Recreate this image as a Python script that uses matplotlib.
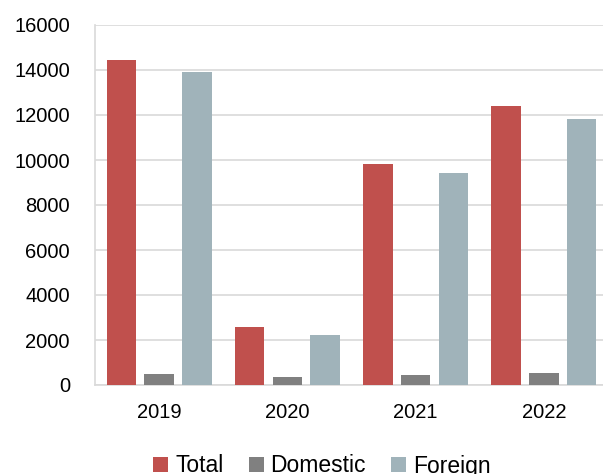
import numpy as np
import matplotlib.pyplot as plt

years = ['2019', '2020', '2021', '2022']
total = [14440, 2570, 9840, 12400]
domestic = [500, 340, 430, 550]
foreign = [13920, 2220, 9400, 11840]

plt.rcParams['font.family'] = ['Liberation Sans', 'DejaVu Sans']

fig = plt.figure(figsize=(6.03, 4.74), dpi=100)
ax = fig.add_axes([95 / 603, 89 / 474, 513 / 603, 360 / 474])

x = np.arange(len(years))
w = 0.229
step = 0.294
ax.bar(x - step, total, w, color='#C0504D', label='Total', zorder=3)
ax.bar(x, domestic, w, color='#808080', label='Domestic', zorder=3)
ax.bar(x + step, foreign, w, color='#A0B3BA', label='Foreign', zorder=3)

ax.set_xlim(-0.5, 3.5)
ax.set_ylim(0, 16000)
ax.set_yticks(range(0, 16001, 2000))
ax.set_xticks(x)
ax.set_xticklabels(years)
ax.grid(axis='y', color='#D9D9D9', linewidth=1.2, zorder=0)
ax.tick_params(axis='both', length=0, labelsize=14.5, colors='black')
ax.tick_params(axis='y', pad=18)
ax.tick_params(axis='x', pad=13)

for s in ['top', 'right']:
    ax.spines[s].set_visible(False)
for s in ['left', 'bottom']:
    ax.spines[s].set_color('#D9D9D9')
    ax.spines[s].set_linewidth(1.2)

fig.legend(loc='center', bbox_to_anchor=(322 / 603, 8 / 474), ncol=3, frameon=False,
           fontsize=16.5, handlelength=0.65, handleheight=0.65, handletextpad=0.3,
           columnspacing=1.1)

fig.savefig('out.png', dpi=100)
